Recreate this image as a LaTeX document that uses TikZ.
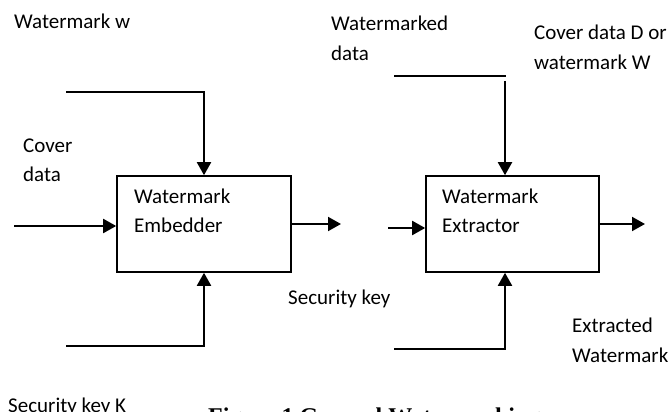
\documentclass[tikz,border=0pt]{standalone}
\usepackage{fontspec}
\setmainfont{Carlito}
\newfontfamily\capfont{Liberation Serif}
\usetikzlibrary{arrows.meta,calc}
\begin{document}
\begin{tikzpicture}[x=1pt,y=-1pt,
  lbl/.style={anchor=base west,inner sep=0pt,font=\fontsize{21}{25}\selectfont},
  blk/.style={draw,line width=1.6pt,minimum width=174pt,minimum height=96pt,inner sep=0pt},
  wire/.style={line width=2pt},
  arr/.style={line width=2pt,-{Triangle[length=13pt,width=14pt]}}]
\useasboundingbox (0,0) rectangle (672,412);
% blocks
\node[blk] (emb) at (204,224) {};
\node[blk,minimum width=173pt] (ext) at (512.5,224) {};
% texts
\node[lbl] (tw) at (14,29) {Watermark w};
\node[lbl] (tc1) at (23,152) {Cover};
\node[lbl] (tc2) at (23,181) {data};
\node[lbl] (te1) at (134,203) {Watermark};
\node[lbl] (te2) at (134,232) {Embedder};
\node[lbl] (tk) at (8,412) {Security key K};
\node[lbl] (tm1) at (331,31) {Watermarked};
\node[lbl] (tm2) at (331,60) {data};
\node[lbl] (td1) at (534,40) {Cover data D or};
\node[lbl] (td2) at (534,70) {watermark W};
\node[lbl] (tx1) at (442,203) {Watermark};
\node[lbl] (tx2) at (442,232) {Extractor};
\node[lbl] (ts) at (288,304) {Security key};
\node[lbl] (tr1) at (572,332) {Extracted};
\node[lbl] (tr2) at (572,362) {Watermark};
\node[anchor=base west,inner sep=0pt,font=\capfont\bfseries\fontsize{24}{28}\selectfont] (cap) at (208,424) {Figure 1 General Watermarking};
% free ends
\coordinate (a1) at (66,92);
\coordinate (a2) at (14,226);
\coordinate (a3) at (341,224);
\coordinate (a4) at (66,346);
\coordinate (b1) at (394,76);
\coordinate (b1e) at (506,76);
\coordinate (b1v) at (505,81);
\coordinate (b2) at (388,228);
\coordinate (b3) at (645,224);
\coordinate (b4) at (394,349);
% embedder connectors
\draw[arr] (a1) -| (emb.north);
\draw[arr] (a2) -- (a2 -| emb.west);
\draw[arr] (emb.east |- a3) -- (a3);
\draw[arr] (a4) -| (emb.south);
% extractor connectors
\draw[wire] (b1) -- (b1e);
\draw[arr] (b1v) -- (b1v |- ext.north);
\draw[arr] (b2) -- (b2 -| ext.west);
\draw[arr] (ext.east |- b3) -- (b3);
\draw[arr] (b4) -| (b1v |- ext.south);
\end{tikzpicture}
\end{document}
